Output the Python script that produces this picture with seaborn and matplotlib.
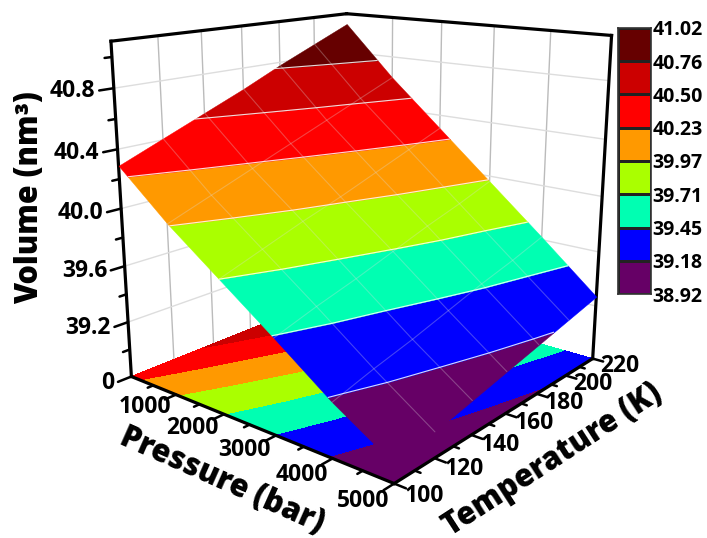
import matplotlib
matplotlib.use('Agg')
import matplotlib.pyplot as plt
from matplotlib.colors import ListedColormap
from mpl_toolkits.mplot3d.art3d import Poly3DCollection
import numpy as np
import seaborn as sns

# values
pressures = [0, 1000, 2000, 3000, 4000, 5000]
temperatures = [100, 120, 140, 160, 180, 200, 220]
volume = [
    [40.29, 40.41, 40.53, 40.65, 40.78, 40.90, 41.02],
    [39.98, 40.09, 40.20, 40.31, 40.42, 40.53, 40.64],
    [39.71, 39.81, 39.91, 40.00, 40.10, 40.20, 40.30],
    [39.44, 39.53, 39.61, 39.70, 39.79, 39.87, 39.96],
    [39.16, 39.24, 39.31, 39.39, 39.47, 39.54, 39.62],
    [38.92, 38.97, 39.03, 39.09, 39.15, 39.21, 39.27],
]
levels = [38.92, 39.18, 39.45, 39.71, 39.97, 40.23, 40.50, 40.76, 41.02]
level_labels = ['38.92', '39.18', '39.45', '39.71', '39.97', '40.23', '40.50', '40.76', '41.02']
band_colors = ['#660066', '#0000ff', '#00ffb2', '#aaff00', '#ff9900', '#ff0000', '#cc0000', '#660000']
p_ticks = [1000, 2000, 3000, 4000, 5000]
p_minor = [500, 1500, 2500, 3500, 4500]
t_ticks = [100, 120, 140, 160, 180, 200, 220]
t_minor = [110, 130, 150, 170, 190, 210]
z_ticks = [39.2, 39.6, 40.0, 40.4, 40.8]
z_minor = [39.0, 39.4, 39.8, 40.2, 40.6, 41.0]
z_floor = 38.8
z_top = 41.1

sns.set_theme(style='white')
plt.rcParams['font.family'] = ['Open Sans', 'DejaVu Sans']
plt.rcParams['font.weight'] = 'bold'
palette = sns.color_palette(band_colors)

W, H = 707, 538
fig = plt.figure(figsize=(W / 100, H / 100), dpi=100)
fig.patch.set_facecolor('white')


def surf_z(p, t):
    row = [np.interp(t, temperatures, r) for r in volume]
    return np.interp(p, pressures, row)


# band polygons from a throwaway 2D contour, then lifted onto the surface
tmp_fig, tmp_ax = plt.subplots()
bands = tmp_ax.contourf(pressures, temperatures, np.array(volume).T, levels=levels)
band_polys = [path.to_polygons() for path in bands.get_paths()]
plt.close(tmp_fig)

ax = fig.add_axes([7 / W, (H - 569) / H, 700 / W, 700 / H], projection='3d',
                  computed_zorder=False, proj_type='persp', focal_length=0.295)
ax.view_init(elev=15.5, azim=-50.5)
ax.set_box_aspect((1, 1, 1), zoom=0.819)
ax.set_axis_off()
ax.patch.set_alpha(0)

p0, p1 = pressures[0], pressures[-1]
t0, t1 = temperatures[0], temperatures[-1]

# wall grid
for t in t_ticks[1:-1]:
    ax.plot([p0, p0], [t, t], [z_floor, z_top], color='#bbbbbb', lw=1, zorder=1)
for p in p_ticks[:-1]:
    ax.plot([p, p], [t1, t1], [z_floor, z_top], color='#bbbbbb', lw=1, zorder=1)
for z in z_ticks:
    ax.plot([p0, p0], [t0, t1], [z, z], color='#dddddd', lw=1, zorder=1)
    ax.plot([p0, p1], [t1, t1], [z, z], color='#dddddd', lw=1, zorder=1)

# floor projection
ax.contourf(pressures, temperatures, np.array(volume).T, levels=levels,
            colors=band_colors, zdir='z', offset=z_floor, zorder=2)

# box edges
edge_kw = dict(color='black', lw=2.3, zorder=3, solid_capstyle='projecting')
ax.plot([p0, p0], [t0, t0], [z_floor, z_top], **edge_kw)
ax.plot([p1, p1], [t1, t1], [z_floor, z_top], **edge_kw)
ax.plot([p0, p1], [t0, t0], [z_floor, z_floor], **edge_kw)
ax.plot([p1, p1], [t0, t1], [z_floor, z_floor], **edge_kw)
ax.plot([p0, p0], [t0, t1], [z_top, z_top], **edge_kw)
ax.plot([p0, p1], [t1, t1], [z_top, z_top], **edge_kw)

# tilted surface
for polys, color in zip(band_polys, palette):
    verts = [[(x, y, surf_z(x, y)) for x, y in poly] for poly in polys]
    coll = Poly3DCollection(verts, facecolor=color, edgecolor=color, linewidth=0.3, zorder=4)
    ax.add_collection3d(coll, autolim=False)

# mesh lines on the surface
for i, p in enumerate(pressures[1:-1], start=1):
    ax.plot([p] * len(temperatures), temperatures, volume[i], color='#dddddd', alpha=0.3, lw=0.8, zorder=5)
for j, t in enumerate(temperatures[1:-1], start=1):
    ax.plot(pressures, [t] * len(pressures), [r[j] for r in volume], color='#dddddd', alpha=0.3, lw=0.8, zorder=5)

ax.contour(pressures, temperatures, np.array(volume).T, levels=levels[1:-1],
           colors='white', linewidths=0.8, alpha=0.85, zorder=6)

# ticks and tick labels
tick_kw = dict(color='black', lw=1.8, zorder=3)
label_kw = dict(va='center', fontsize=16.5, fontweight='bold', color='black')
for p in p_ticks:
    ax.plot([p, p], [t0, t0 - 5], [z_floor, z_floor], **tick_kw)
    ax.text(p - 20, t0 - 13.5, z_floor, str(p), ha='center', **label_kw)
for p in p_minor:
    ax.plot([p, p], [t0, t0 - 2.5], [z_floor, z_floor], **tick_kw)
for t in t_ticks:
    ax.plot([p1, p1 + 180], [t, t], [z_floor, z_floor], **tick_kw)
    ax.text(p1 + 460, t, z_floor, str(t), ha='center', **label_kw)
for t in t_minor:
    ax.plot([p1, p1 + 90], [t, t], [z_floor, z_floor], **tick_kw)
for z in z_ticks:
    ax.plot([p0, p0], [t0, t0 - 6], [z, z], **tick_kw)
    ax.text(p0, t0 - 7.5, z, f'{z:.1f}', ha='right', **label_kw)
for z in z_minor:
    ax.plot([p0, p0], [t0, t0 - 3], [z, z], **tick_kw)
ax.plot([p0, p0], [t0, t0 - 6], [z_floor, z_floor], **tick_kw)
ax.text(p0, t0 - 7.5, z_floor, '0', ha='right', **label_kw)

ax.set_xlim(p0, p1)
ax.set_ylim(t0, t1)
ax.set_zlim(z_floor, z_top)

# axis titles
title_kw = dict(ha='center', va='center', rotation_mode='anchor', fontsize=22,
                fontweight='extra bold', color='black')
fig.text(222 / W, 1 - 481 / H, 'Pressure (bar)', rotation=-24, **title_kw)
fig.text(553 / W, 1 - 460 / H, 'Temperature (K)', rotation=33, **title_kw)
fig.text(30 / W, 1 - 198 / H, 'Volume (nm³)', rotation=90, **title_kw)

# legend strip
cax = fig.add_axes([618 / W, 1 - 294 / H, 33 / W, 266 / H])
band_mid = [[(a + b) / 2] for a, b in zip(levels[:-1], levels[1:])][::-1]
sns.heatmap(band_mid, ax=cax, cmap=ListedColormap(band_colors), cbar=False,
            linewidths=1.0, linecolor='#222222', xticklabels=False, yticklabels=False)
cax.yaxis.tick_right()
cax.set_yticks(range(len(levels)))
cax.set_yticklabels(level_labels[::-1], fontsize=14, fontweight='bold', color='black', rotation=0)
cax.tick_params(axis='y', length=0, pad=1)
for side in cax.spines.values():
    side.set_visible(True)
    side.set_color('#333333')
    side.set_linewidth(1.2)

fig.savefig('out.png', dpi=100)
